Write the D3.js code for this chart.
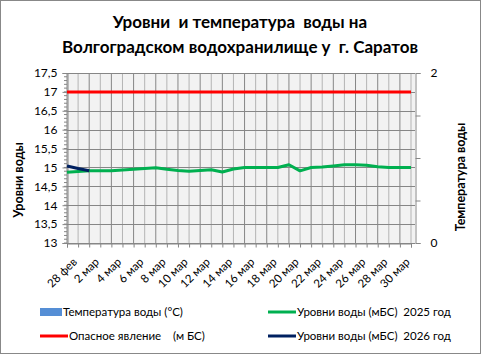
<!DOCTYPE html>
<html><head><meta charset="utf-8">
<script src="https://cdn.jsdelivr.net/npm/d3@7"></script>
<style>body{margin:0;background:#fff}svg{display:block}text{font-family:Lato,"Open Sans",sans-serif}</style>
</head><body>
<script>
const dates = ["28 фев","1 мар","2 мар","3 мар","4 мар","5 мар","6 мар","7 мар","8 мар","9 мар","10 мар","11 мар","12 мар","13 мар","14 мар","15 мар","16 мар","17 мар","18 мар","19 мар","20 мар","21 мар","22 мар","23 мар","24 мар","25 мар","26 мар","27 мар","28 мар","29 мар","30 мар","31 мар"];
const levels2025 = [14.87,14.89,14.91,14.91,14.91,14.93,14.95,14.97,14.99,14.95,14.92,14.90,14.92,14.94,14.88,14.96,15.0,15.0,15.0,15.0,15.07,14.91,15.0,15.01,15.04,15.07,15.07,15.06,15.02,15.0,15.0,15.0];
const levels2026 = [15.04,14.97,14.91];
const dangerLevel = [17,17,17,17,17,17,17,17,17,17,17,17,17,17,17,17,17,17,17,17,17,17,17,17,17,17,17,17,17,17,17,17];
const temperature = [];
const leftTicks = [13,13.5,14,14.5,15,15.5,16,16.5,17,17.5];
const rightTicks = [0,0.5,1,1.5,2];
const rightLabels = [0,2];

const W=481,H=354;
const svg=d3.select("body").append("svg").attr("width",W).attr("height",H);
svg.append("rect").attr("x",0.5).attr("y",0.5).attr("width",W-1).attr("height",H-1).attr("fill","#fff").attr("stroke","#888");

const L=67,R=415,T=73,B=243;
const x=d3.scalePoint().domain(dates).range([L,411]);
const y=d3.scaleLinear().domain([13,17.5]).range([B,T]);
const y2=d3.scaleLinear().domain([0,2]).range([B,T]);

svg.append("rect").attr("x",L).attr("y",T).attr("width",R-L).attr("height",B-T).attr("fill","#F2F2F2");

// vertical gridlines
dates.forEach((d,i)=>{
  svg.append("line").attr("x1",x(d)).attr("x2",x(d)).attr("y1",T).attr("y2",B)
    .attr("stroke", i%2===0?"#868686":"#B4B4B4").attr("stroke-width",1);
});
// horizontal gridlines
leftTicks.forEach(v=>{
  svg.append("line").attr("x1",L).attr("x2",R).attr("y1",Math.round(y(v))+0.5).attr("y2",Math.round(y(v))+0.5)
    .attr("stroke","#868686");
});

// left axis
const la=svg.append("g").attr("transform",`translate(${L+0.5},0)`)
  .call(d3.axisLeft(y).tickValues(leftTicks).tickSize(5).tickPadding(5).tickFormat(d=>String(d).replace(".",",")));
la.select(".domain").attr("stroke","#868686");
la.selectAll(".tick line").attr("stroke","#868686");
la.selectAll("text").attr("font-size",12).attr("fill","#000").style("font-family","Lato");
// minor ticks
d3.range(13,17.5,0.1).forEach(v=>{
  svg.append("line").attr("x1",L-3).attr("x2",L).attr("y1",y(v)).attr("y2",y(v)).attr("stroke","#868686");
});

// right axis
const ra=svg.append("g").attr("transform",`translate(${R+0.5},0)`)
  .call(d3.axisRight(y2).tickValues(rightTicks).tickSize(5).tickPadding(10).tickFormat(d=>rightLabels.includes(d)?String(d):""));
ra.select(".domain").attr("stroke","#868686");
ra.selectAll(".tick line").attr("stroke","#868686");
ra.selectAll("text").attr("font-size",12).attr("fill","#000").style("font-family","Lato");

// x axis
const xa=svg.append("g").attr("transform",`translate(0,${B+0.5})`)
  .call(d3.axisBottom(x).tickSize(4).tickFormat(""));
xa.select(".domain").attr("stroke","#868686");
xa.selectAll(".tick line").attr("stroke","#868686");
dates.forEach((d,i)=>{
  if(i%2) return;
  svg.append("text").attr("transform",`translate(${x(d)+5},${B+14}) rotate(-45)`)
    .attr("text-anchor","end").attr("dy","0.7em").attr("font-size",11.5).text(d);
});

// lines
const line=d3.line().x((d,i)=>x(dates[i])).y(d=>y(d));
svg.append("path").datum(dangerLevel).attr("d",line).attr("fill","none").attr("stroke","#FF0000").attr("stroke-width",3);
svg.append("path").datum(levels2025).attr("d",line).attr("fill","none").attr("stroke","#00B050").attr("stroke-width",3).attr("stroke-linejoin","round");
svg.append("path").datum(levels2026).attr("d",line).attr("fill","none").attr("stroke","#002060").attr("stroke-width",3);

// titles
svg.append("text").attr("x",240).attr("y",28).attr("text-anchor","middle").attr("font-size",17).attr("font-weight","bold").style("white-space","pre").text("Уровни  и температура  воды на");
svg.append("text").attr("x",240).attr("y",53).attr("text-anchor","middle").attr("font-size",17).attr("font-weight","bold").style("white-space","pre").text("Волгоградском водохранилище у  г. Саратов");
svg.append("text").attr("transform","translate(23,180) rotate(-90)").attr("text-anchor","middle").attr("font-size",12.5).attr("font-weight","bold").text("Уровни воды");
svg.append("text").attr("transform","translate(465,177) rotate(-90)").attr("text-anchor","middle").attr("font-size",12.5).attr("font-weight","bold").text("Температура воды");

// legend
const leg=[
 {t:"Температура воды (°C)",c:"#558ED5",type:"rect",x:40,y:312},
 {t:"Опасное явление    (м БС)",c:"#FF0000",type:"line",x:40,y:336},
 {t:"Уровни воды (мБС)  2025 год",c:"#00B050",type:"line",x:268,y:312},
 {t:"Уровни воды (мБС)  2026 год",c:"#002060",type:"line",x:268,y:336}
];
leg.forEach(l=>{
  if(l.type==="rect") svg.append("rect").attr("x",l.x).attr("y",l.y-4).attr("width",22).attr("height",8).attr("fill",l.c);
  else svg.append("line").attr("x1",l.x).attr("x2",l.x+28).attr("y1",l.y).attr("y2",l.y).attr("stroke",l.c).attr("stroke-width",3);
  svg.append("text").attr("x",l.type==="rect"?l.x+23:l.x+29).attr("y",l.y+4).attr("font-size",11.5).style("white-space","pre").text(l.t);
});
</script>
</body></html>
